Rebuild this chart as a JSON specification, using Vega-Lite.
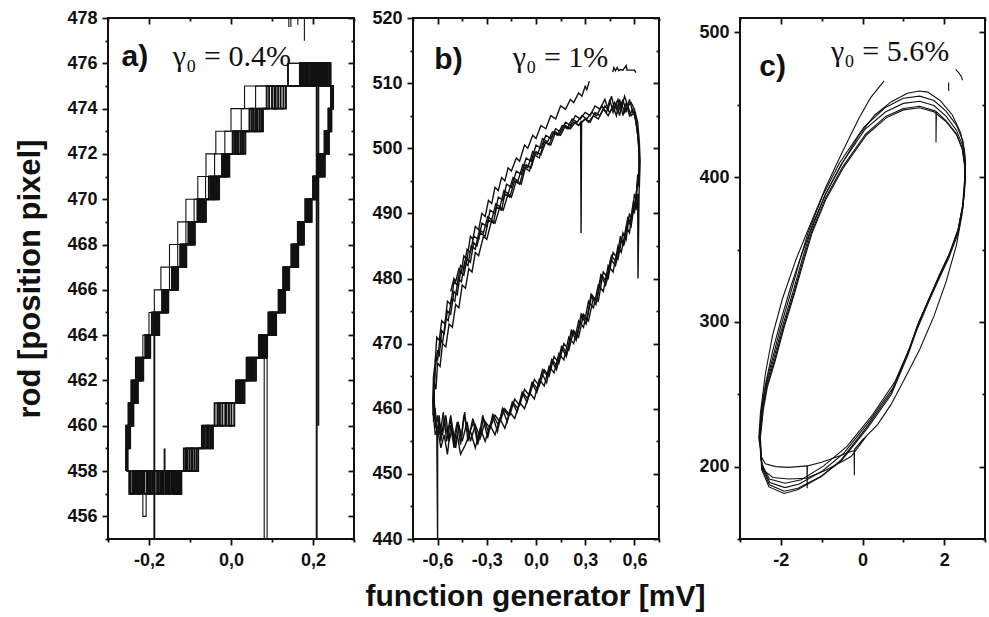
{
"$schema":"https://vega.github.io/schema/vega-lite/v6.json",
"padding":{"left":13,"top":8,"right":2,"bottom":2},
"config":{"view":{"stroke":"#111","strokeWidth":2},"axis":{"grid":false,"domain":false,"tickColor":"#111","tickWidth":1.8,"labelFont":"Liberation Sans","labelFontWeight":"bold","labelFontSize":18,"labelColor":"#111","labelFlush":false,"labelOverlap":false,"labelBound":false,"titleFont":"Liberation Sans","titleFontWeight":"bold","titleFontSize":31,"titleColor":"#111"}},
"title":{"text":"function generator [mV]","orient":"bottom","anchor":"middle","font":"Liberation Sans","fontSize":30,"fontWeight":"bold","color":"#111","offset":12,"dx":35},
"datasets":{
"pa":[
{"s":1,"x":-0.25,"y":458},{"s":1,"x":-0.24,"y":457},{"s":1,"x":-0.23,"y":458},{"s":1,"x":-0.215,"y":456},{"s":1,"x":-0.207,"y":457},{"s":1,"x":-0.195,"y":458},{"s":1,"x":-0.17,"y":457},{"s":1,"x":-0.15,"y":458},{"s":1,"x":-0.135,"y":457},{"s":1,"x":-0.124,"y":458},{"s":1,"x":-0.108,"y":459},{"s":1,"x":-0.066,"y":460},{"s":1,"x":-0.03,"y":461},{"s":1,"x":0.016,"y":462},{"s":1,"x":0.042,"y":463},{"s":1,"x":0.081,"y":450},{"s":1,"x":0.088,"y":463},{"s":1,"x":0.089,"y":464},{"s":1,"x":0.095,"y":465},{"s":1,"x":0.119,"y":466},{"s":1,"x":0.13,"y":467},{"s":1,"x":0.151,"y":468},{"s":1,"x":0.166,"y":469},{"s":1,"x":0.184,"y":470},{"s":1,"x":0.203,"y":471},{"s":1,"x":0.216,"y":472},{"s":1,"x":0.23,"y":473},{"s":1,"x":0.239,"y":474},{"s":1,"x":0.244,"y":475},{"s":1,"x":0.236,"y":476},{"s":1,"x":0.138,"y":475},{"s":1,"x":0.033,"y":474},{"s":1,"x":0.0,"y":473},{"s":1,"x":-0.037,"y":472},{"s":1,"x":-0.061,"y":471},{"s":1,"x":-0.081,"y":470},{"s":1,"x":-0.11,"y":469},{"s":1,"x":-0.13,"y":468},{"s":1,"x":-0.15,"y":467},{"s":1,"x":-0.171,"y":466},{"s":1,"x":-0.187,"y":465},{"s":1,"x":-0.2,"y":464},{"s":1,"x":-0.215,"y":463},{"s":1,"x":-0.232,"y":462},{"s":1,"x":-0.243,"y":461},{"s":1,"x":-0.25,"y":460},{"s":1,"x":-0.254,"y":459},{"s":1,"x":-0.255,"y":458},
{"s":2,"x":-0.252,"y":458},{"s":2,"x":-0.245,"y":457},{"s":2,"x":-0.236,"y":458},{"s":2,"x":-0.228,"y":457},{"s":2,"x":-0.214,"y":458},{"s":2,"x":-0.2,"y":457},{"s":2,"x":-0.192,"y":458},{"s":2,"x":-0.18,"y":457},{"s":2,"x":-0.172,"y":458},{"s":2,"x":-0.16,"y":457},{"s":2,"x":-0.152,"y":458},{"s":2,"x":-0.14,"y":457},{"s":2,"x":-0.132,"y":458},{"s":2,"x":-0.125,"y":457},{"s":2,"x":-0.122,"y":458},
{"s":2,"x":-0.115,"y":459},{"s":2,"x":-0.106,"y":458},{"s":2,"x":-0.096,"y":459},
{"s":2,"x":-0.071,"y":460},{"s":2,"x":-0.064,"y":459},{"s":2,"x":-0.057,"y":460},
{"s":2,"x":-0.04,"y":461},{"s":2,"x":-0.027,"y":460},{"s":2,"x":-0.014,"y":461},
{"s":2,"x":0.012,"y":462},{"s":2,"x":0.018,"y":461},{"s":2,"x":0.023,"y":462},
{"s":2,"x":0.038,"y":463},{"s":2,"x":0.044,"y":462},{"s":2,"x":0.05,"y":463},
{"s":2,"x":0.068,"y":464},{"s":2,"x":0.073,"y":463},{"s":2,"x":0.078,"y":464},
{"s":2,"x":0.091,"y":465},{"s":2,"x":0.096,"y":464},{"s":2,"x":0.101,"y":465},
{"s":2,"x":0.116,"y":466},{"s":2,"x":0.12,"y":465},{"s":2,"x":0.125,"y":466},
{"s":2,"x":0.127,"y":467},{"s":2,"x":0.131,"y":466},{"s":2,"x":0.135,"y":467},
{"s":2,"x":0.147,"y":468},{"s":2,"x":0.152,"y":467},{"s":2,"x":0.156,"y":468},
{"s":2,"x":0.163,"y":469},{"s":2,"x":0.167,"y":468},{"s":2,"x":0.171,"y":469},
{"s":2,"x":0.181,"y":470},{"s":2,"x":0.185,"y":469},{"s":2,"x":0.19,"y":470},
{"s":2,"x":0.2,"y":471},{"s":2,"x":0.204,"y":470},{"s":2,"x":0.207,"y":471},
{"s":2,"x":0.213,"y":472},{"s":2,"x":0.217,"y":471},{"s":2,"x":0.222,"y":472},
{"s":2,"x":0.228,"y":473},{"s":2,"x":0.231,"y":472},{"s":2,"x":0.234,"y":473},
{"s":2,"x":0.2375,"y":474},{"s":2,"x":0.2395,"y":473},{"s":2,"x":0.2415,"y":474},
{"s":2,"x":0.244,"y":475},{"s":2,"x":0.246,"y":474},{"s":2,"x":0.248,"y":475},
{"s":2,"x":0.24,"y":476},{"s":2,"x":0.232,"y":475},{"s":2,"x":0.226,"y":476},{"s":2,"x":0.219,"y":475},{"s":2,"x":0.212,"y":476},{"s":2,"x":0.209,"y":450},{"s":2,"x":0.209,"y":476},{"s":2,"x":0.2,"y":475},{"s":2,"x":0.194,"y":476},{"s":2,"x":0.186,"y":475},{"s":2,"x":0.178,"y":476},{"s":2,"x":0.171,"y":475},
{"s":2,"x":0.134,"y":474},{"s":2,"x":0.121,"y":475},{"s":2,"x":0.109,"y":474},
{"s":2,"x":0.078,"y":473},{"s":2,"x":0.07,"y":474},{"s":2,"x":0.061,"y":473},
{"s":2,"x":0.035,"y":472},{"s":2,"x":0.027,"y":473},{"s":2,"x":0.018,"y":472},
{"s":2,"x":-0.004,"y":471},{"s":2,"x":-0.008,"y":472},{"s":2,"x":-0.013,"y":471},
{"s":2,"x":-0.029,"y":470},{"s":2,"x":-0.036,"y":471},{"s":2,"x":-0.042,"y":470},
{"s":2,"x":-0.061,"y":469},{"s":2,"x":-0.067,"y":470},{"s":2,"x":-0.072,"y":469},
{"s":2,"x":-0.088,"y":468},{"s":2,"x":-0.092,"y":469},{"s":2,"x":-0.097,"y":468},
{"s":2,"x":-0.109,"y":467},{"s":2,"x":-0.113,"y":468},{"s":2,"x":-0.117,"y":467},
{"s":2,"x":-0.129,"y":466},{"s":2,"x":-0.133,"y":467},{"s":2,"x":-0.137,"y":466},
{"s":2,"x":-0.153,"y":465},{"s":2,"x":-0.157,"y":466},{"s":2,"x":-0.161,"y":465},
{"s":2,"x":-0.175,"y":464},{"s":2,"x":-0.179,"y":465},{"s":2,"x":-0.184,"y":464},
{"s":2,"x":-0.197,"y":463},{"s":2,"x":-0.201,"y":464},{"s":2,"x":-0.204,"y":463},
{"s":2,"x":-0.214,"y":462},{"s":2,"x":-0.219,"y":463},{"s":2,"x":-0.224,"y":462},
{"s":2,"x":-0.227,"y":461},{"s":2,"x":-0.231,"y":462},{"s":2,"x":-0.236,"y":461},
{"s":2,"x":-0.238,"y":460},{"s":2,"x":-0.242,"y":461},{"s":2,"x":-0.245,"y":460},
{"s":2,"x":-0.246,"y":459},{"s":2,"x":-0.248,"y":460},{"s":2,"x":-0.251,"y":459},
{"s":2,"x":-0.252,"y":458},
{"s":3,"x":-0.255,"y":458},{"s":3,"x":-0.248,"y":457},{"s":3,"x":-0.24,"y":458},{"s":3,"x":-0.233,"y":457},{"s":3,"x":-0.222,"y":458},{"s":3,"x":-0.216,"y":457},{"s":3,"x":-0.205,"y":458},{"s":3,"x":-0.198,"y":457},{"s":3,"x":-0.188,"y":458},{"s":3,"x":-0.176,"y":457},{"s":3,"x":-0.168,"y":458},{"s":3,"x":-0.162,"y":459},{"s":3,"x":-0.162,"y":458},{"s":3,"x":-0.155,"y":457},{"s":3,"x":-0.145,"y":458},{"s":3,"x":-0.138,"y":457},{"s":3,"x":-0.128,"y":458},{"s":3,"x":-0.124,"y":457},{"s":3,"x":-0.121,"y":458},
{"s":3,"x":-0.101,"y":459},{"s":3,"x":-0.089,"y":458},{"s":3,"x":-0.08,"y":459},
{"s":3,"x":-0.06,"y":460},{"s":3,"x":-0.051,"y":459},{"s":3,"x":-0.044,"y":460},
{"s":3,"x":-0.021,"y":461},{"s":3,"x":-0.005,"y":460},{"s":3,"x":0.008,"y":461},
{"s":3,"x":0.021,"y":462},{"s":3,"x":0.028,"y":461},{"s":3,"x":0.033,"y":462},
{"s":3,"x":0.047,"y":463},{"s":3,"x":0.055,"y":462},{"s":3,"x":0.061,"y":463},
{"s":3,"x":0.075,"y":464},{"s":3,"x":0.082,"y":463},{"s":3,"x":0.087,"y":464},
{"s":3,"x":0.099,"y":465},{"s":3,"x":0.105,"y":464},{"s":3,"x":0.11,"y":465},
{"s":3,"x":0.122,"y":466},{"s":3,"x":0.128,"y":465},{"s":3,"x":0.132,"y":466},
{"s":3,"x":0.133,"y":467},{"s":3,"x":0.138,"y":466},{"s":3,"x":0.142,"y":467},
{"s":3,"x":0.154,"y":468},{"s":3,"x":0.159,"y":467},{"s":3,"x":0.164,"y":468},
{"s":3,"x":0.169,"y":469},{"s":3,"x":0.174,"y":468},{"s":3,"x":0.178,"y":469},
{"s":3,"x":0.187,"y":470},{"s":3,"x":0.193,"y":469},{"s":3,"x":0.197,"y":470},
{"s":3,"x":0.205,"y":471},{"s":3,"x":0.209,"y":470},{"s":3,"x":0.212,"y":471},
{"s":3,"x":0.219,"y":472},{"s":3,"x":0.225,"y":471},{"s":3,"x":0.229,"y":472},
{"s":3,"x":0.232,"y":473},{"s":3,"x":0.236,"y":472},{"s":3,"x":0.239,"y":473},
{"s":3,"x":0.2405,"y":474},{"s":3,"x":0.243,"y":473},{"s":3,"x":0.245,"y":474},
{"s":3,"x":0.246,"y":475},{"s":3,"x":0.247,"y":474},{"s":3,"x":0.249,"y":475},
{"s":3,"x":0.243,"y":476},{"s":3,"x":0.236,"y":475},{"s":3,"x":0.229,"y":476},{"s":3,"x":0.222,"y":475},{"s":3,"x":0.216,"y":476},{"s":3,"x":0.213,"y":460},{"s":3,"x":0.213,"y":476},{"s":3,"x":0.205,"y":475},{"s":3,"x":0.198,"y":476},{"s":3,"x":0.19,"y":475},{"s":3,"x":0.183,"y":476},{"s":3,"x":0.176,"y":475},{"s":3,"x":0.172,"y":476},{"s":3,"x":0.168,"y":475},
{"s":3,"x":0.115,"y":474},{"s":3,"x":0.1,"y":475},{"s":3,"x":0.087,"y":474},
{"s":3,"x":0.065,"y":473},{"s":3,"x":0.054,"y":474},{"s":3,"x":0.045,"y":473},
{"s":3,"x":0.023,"y":472},{"s":3,"x":0.012,"y":473},{"s":3,"x":0.004,"y":472},
{"s":3,"x":-0.011,"y":471},{"s":3,"x":-0.017,"y":472},{"s":3,"x":-0.022,"y":471},
{"s":3,"x":-0.039,"y":470},{"s":3,"x":-0.047,"y":471},{"s":3,"x":-0.054,"y":470},
{"s":3,"x":-0.07,"y":469},{"s":3,"x":-0.077,"y":470},{"s":3,"x":-0.082,"y":469},
{"s":3,"x":-0.094,"y":468},{"s":3,"x":-0.1,"y":469},{"s":3,"x":-0.104,"y":468},
{"s":3,"x":-0.115,"y":467},{"s":3,"x":-0.12,"y":468},{"s":3,"x":-0.124,"y":467},
{"s":3,"x":-0.135,"y":466},{"s":3,"x":-0.14,"y":467},{"s":3,"x":-0.144,"y":466},
{"s":3,"x":-0.159,"y":465},{"s":3,"x":-0.164,"y":466},{"s":3,"x":-0.168,"y":465},
{"s":3,"x":-0.182,"y":464},{"s":3,"x":-0.186,"y":465},{"s":3,"x":-0.187,"y":450},{"s":3,"x":-0.187,"y":465},{"s":3,"x":-0.193,"y":464},
{"s":3,"x":-0.202,"y":463},{"s":3,"x":-0.206,"y":464},{"s":3,"x":-0.209,"y":463},
{"s":3,"x":-0.221,"y":462},{"s":3,"x":-0.227,"y":463},{"s":3,"x":-0.232,"y":462},
{"s":3,"x":-0.233,"y":461},{"s":3,"x":-0.239,"y":462},{"s":3,"x":-0.243,"y":461},
{"s":3,"x":-0.243,"y":460},{"s":3,"x":-0.247,"y":461},{"s":3,"x":-0.25,"y":460},
{"s":3,"x":-0.252,"y":459},{"s":3,"x":-0.254,"y":460},{"s":3,"x":-0.256,"y":459},
{"s":3,"x":-0.256,"y":458},
{"s":4,"x":0.2,"y":476},{"s":4,"x":0.14,"y":475},{"s":4,"x":0.06,"y":474},{"s":4,"x":0.025,"y":473},{"s":4,"x":-0.015,"y":472},{"s":4,"x":-0.04,"y":471},{"s":4,"x":-0.062,"y":470},{"s":4,"x":-0.09,"y":469},{"s":4,"x":-0.11,"y":468},{"s":4,"x":-0.13,"y":467},{"s":4,"x":-0.15,"y":466},{"s":4,"x":-0.168,"y":465},{"s":4,"x":-0.185,"y":464},{"s":4,"x":-0.2,"y":463},
{"s":5,"x":0.14,"y":479},{"s":5,"x":0.141,"y":477.6},{"s":5,"x":0.141,"y":479},{"s":5,"x":0.146,"y":477.6},{"s":5,"x":0.146,"y":479},{"s":5,"x":0.163,"y":477.7},{"s":5,"x":0.163,"y":479},{"s":5,"x":0.179,"y":477},{"s":5,"x":0.179,"y":479},
{"s":6,"x":-0.254,"y":458},{"s":6,"x":-0.247,"y":457},{"s":6,"x":-0.239,"y":458},{"s":6,"x":-0.231,"y":457},{"s":6,"x":-0.225,"y":458},{"s":6,"x":-0.219,"y":457},{"s":6,"x":-0.211,"y":458},{"s":6,"x":-0.203,"y":457},{"s":6,"x":-0.196,"y":458},{"s":6,"x":-0.186,"y":457},{"s":6,"x":-0.179,"y":458},{"s":6,"x":-0.17,"y":457},{"s":6,"x":-0.164,"y":458},{"s":6,"x":-0.157,"y":457},{"s":6,"x":-0.149,"y":458},{"s":6,"x":-0.143,"y":457},{"s":6,"x":-0.134,"y":458},{"s":6,"x":-0.129,"y":457},{"s":6,"x":-0.123,"y":458},
{"s":6,"x":-0.11,"y":459},{"s":6,"x":-0.094,"y":458},{"s":6,"x":-0.084,"y":459},
{"s":6,"x":-0.068,"y":460},{"s":6,"x":-0.055,"y":459},{"s":6,"x":-0.047,"y":460},
{"s":6,"x":-0.033,"y":461},{"s":6,"x":-0.011,"y":460},{"s":6,"x":0.001,"y":461},
{"s":6,"x":0.015,"y":462},{"s":6,"x":0.025,"y":461},{"s":6,"x":0.03,"y":462},
{"s":6,"x":0.041,"y":463},{"s":6,"x":0.052,"y":462},{"s":6,"x":0.058,"y":463},
{"s":6,"x":0.07,"y":464},{"s":6,"x":0.079,"y":463},{"s":6,"x":0.084,"y":464},
{"s":6,"x":0.094,"y":465},{"s":6,"x":0.103,"y":464},{"s":6,"x":0.108,"y":465},
{"s":6,"x":0.118,"y":466},{"s":6,"x":0.126,"y":465},{"s":6,"x":0.13,"y":466},
{"s":6,"x":0.131,"y":467},{"s":6,"x":0.136,"y":466},{"s":6,"x":0.14,"y":467},
{"s":6,"x":0.15,"y":468},{"s":6,"x":0.157,"y":467},{"s":6,"x":0.162,"y":468},
{"s":6,"x":0.165,"y":469},{"s":6,"x":0.172,"y":468},{"s":6,"x":0.176,"y":469},
{"s":6,"x":0.183,"y":470},{"s":6,"x":0.191,"y":469},{"s":6,"x":0.195,"y":470},
{"s":6,"x":0.202,"y":471},{"s":6,"x":0.208,"y":470},{"s":6,"x":0.211,"y":471},
{"s":6,"x":0.215,"y":472},{"s":6,"x":0.223,"y":471},{"s":6,"x":0.227,"y":472},
{"s":6,"x":0.2295,"y":473},{"s":6,"x":0.234,"y":472},{"s":6,"x":0.237,"y":473},
{"s":6,"x":0.2385,"y":474},{"s":6,"x":0.242,"y":473},{"s":6,"x":0.244,"y":474},
{"s":6,"x":0.2445,"y":475},{"s":6,"x":0.2465,"y":474},{"s":6,"x":0.2475,"y":475},
{"s":6,"x":0.241,"y":476},{"s":6,"x":0.235,"y":475},{"s":6,"x":0.23,"y":476},{"s":6,"x":0.224,"y":475},{"s":6,"x":0.218,"y":476},{"s":6,"x":0.21,"y":475},{"s":6,"x":0.203,"y":476},{"s":6,"x":0.196,"y":475},{"s":6,"x":0.189,"y":476},{"s":6,"x":0.181,"y":475},{"s":6,"x":0.174,"y":476},{"s":6,"x":0.17,"y":475},
{"s":6,"x":0.128,"y":474},{"s":6,"x":0.106,"y":475},{"s":6,"x":0.093,"y":474},
{"s":6,"x":0.074,"y":473},{"s":6,"x":0.059,"y":474},{"s":6,"x":0.05,"y":473},
{"s":6,"x":0.031,"y":472},{"s":6,"x":0.016,"y":473},{"s":6,"x":0.008,"y":472},
{"s":6,"x":-0.006,"y":471},{"s":6,"x":-0.014,"y":472},{"s":6,"x":-0.019,"y":471},
{"s":6,"x":-0.032,"y":470},{"s":6,"x":-0.044,"y":471},{"s":6,"x":-0.05,"y":470},
{"s":6,"x":-0.064,"y":469},{"s":6,"x":-0.074,"y":470},{"s":6,"x":-0.079,"y":469},
{"s":6,"x":-0.09,"y":468},{"s":6,"x":-0.098,"y":469},{"s":6,"x":-0.102,"y":468},
{"s":6,"x":-0.111,"y":467},{"s":6,"x":-0.118,"y":468},{"s":6,"x":-0.122,"y":467},
{"s":6,"x":-0.131,"y":466},{"s":6,"x":-0.138,"y":467},{"s":6,"x":-0.142,"y":466},
{"s":6,"x":-0.155,"y":465},{"s":6,"x":-0.162,"y":466},{"s":6,"x":-0.166,"y":465},
{"s":6,"x":-0.177,"y":464},{"s":6,"x":-0.185,"y":465},{"s":6,"x":-0.19,"y":464},
{"s":6,"x":-0.199,"y":463},{"s":6,"x":-0.205,"y":464},{"s":6,"x":-0.208,"y":463},
{"s":6,"x":-0.217,"y":462},{"s":6,"x":-0.225,"y":463},{"s":6,"x":-0.229,"y":462},
{"s":6,"x":-0.23,"y":461},{"s":6,"x":-0.237,"y":462},{"s":6,"x":-0.241,"y":461},
{"s":6,"x":-0.242,"y":460},{"s":6,"x":-0.246,"y":461},{"s":6,"x":-0.249,"y":460},
{"s":6,"x":-0.25,"y":459},{"s":6,"x":-0.252,"y":460},{"s":6,"x":-0.254,"y":459},
{"s":6,"x":-0.255,"y":458}
],
"pb":[
{"s":0,"x":-0.52,"y":478},{"s":0,"x":-0.5,"y":480},{"s":0,"x":-0.49,"y":479.5},{"s":0,"x":-0.47,"y":481.5},{"s":0,"x":-0.455,"y":481},{"s":0,"x":-0.44,"y":483.5},{"s":0,"x":-0.42,"y":483},{"s":0,"x":-0.4,"y":486.5},{"s":0,"x":-0.385,"y":486},{"s":0,"x":-0.37,"y":488},{"s":0,"x":-0.35,"y":487.5},{"s":0,"x":-0.33,"y":490},{"s":0,"x":-0.31,"y":489.5},{"s":0,"x":-0.29,"y":492},{"s":0,"x":-0.27,"y":491.5},{"s":0,"x":-0.25,"y":494},{"s":0,"x":-0.23,"y":493.5},{"s":0,"x":-0.21,"y":495.5},{"s":0,"x":-0.19,"y":495},{"s":0,"x":-0.17,"y":497},{"s":0,"x":-0.15,"y":496.5},{"s":0,"x":-0.12,"y":498.5},{"s":0,"x":-0.1,"y":498},{"s":0,"x":-0.07,"y":500.5},{"s":0,"x":-0.05,"y":500},{"s":0,"x":-0.02,"y":502},{"s":0,"x":0.0,"y":501.5},{"s":0,"x":0.03,"y":503.5},{"s":0,"x":0.06,"y":503},{"s":0,"x":0.09,"y":505},{"s":0,"x":0.12,"y":504.5},{"s":0,"x":0.15,"y":506.5},{"s":0,"x":0.18,"y":506},{"s":0,"x":0.21,"y":507.5},{"s":0,"x":0.23,"y":507},{"s":0,"x":0.26,"y":508.5},{"s":0,"x":0.28,"y":508},{"s":0,"x":0.3,"y":509.5},{"s":0,"x":0.31,"y":509},{"s":0,"x":0.325,"y":510.3},
{"s":1,"x":-0.625,"y":462},{"s":1,"x":-0.615,"y":466},{"s":1,"x":-0.62,"y":465},{"s":1,"x":-0.6,"y":469},{"s":1,"x":-0.59,"y":468},{"s":1,"x":-0.575,"y":472},{"s":1,"x":-0.56,"y":471.5},{"s":1,"x":-0.54,"y":475},{"s":1,"x":-0.52,"y":474.5},{"s":1,"x":-0.5,"y":478},{"s":1,"x":-0.48,"y":477.5},{"s":1,"x":-0.46,"y":481},{"s":1,"x":-0.44,"y":480.5},{"s":1,"x":-0.42,"y":483},{"s":1,"x":-0.4,"y":482.5},{"s":1,"x":-0.38,"y":485.5},{"s":1,"x":-0.36,"y":485},{"s":1,"x":-0.34,"y":487},{"s":1,"x":-0.31,"y":486.5},{"s":1,"x":-0.29,"y":489},{"s":1,"x":-0.26,"y":488.5},{"s":1,"x":-0.24,"y":491},{"s":1,"x":-0.21,"y":490.5},{"s":1,"x":-0.19,"y":493},{"s":1,"x":-0.16,"y":492.5},{"s":1,"x":-0.13,"y":495},{"s":1,"x":-0.1,"y":494.5},{"s":1,"x":-0.07,"y":497},{"s":1,"x":-0.04,"y":496.5},{"s":1,"x":-0.01,"y":499},{"s":1,"x":0.02,"y":498.5},{"s":1,"x":0.05,"y":501},{"s":1,"x":0.08,"y":500.5},{"s":1,"x":0.11,"y":502.5},{"s":1,"x":0.14,"y":502},{"s":1,"x":0.17,"y":503.5},{"s":1,"x":0.2,"y":503},{"s":1,"x":0.23,"y":504},{"s":1,"x":0.26,"y":503.5},{"s":1,"x":0.3,"y":504.5},{"s":1,"x":0.33,"y":504},{"s":1,"x":0.36,"y":505.5},{"s":1,"x":0.39,"y":505},{"s":1,"x":0.42,"y":506.5},{"s":1,"x":0.45,"y":505.5},{"s":1,"x":0.48,"y":507},{"s":1,"x":0.5,"y":505.5},{"s":1,"x":0.52,"y":507},{"s":1,"x":0.54,"y":505.5},{"s":1,"x":0.56,"y":506.5},{"s":1,"x":0.58,"y":505},{"s":1,"x":0.6,"y":505.5},{"s":1,"x":0.615,"y":503},{"s":1,"x":0.625,"y":501},{"s":1,"x":0.63,"y":498},
{"s":1,"x":0.625,"y":495},{"s":1,"x":0.62,"y":496},{"s":1,"x":0.61,"y":492},{"s":1,"x":0.6,"y":493},{"s":1,"x":0.585,"y":489},{"s":1,"x":0.57,"y":490},{"s":1,"x":0.55,"y":486},{"s":1,"x":0.53,"y":487},{"s":1,"x":0.5,"y":483},{"s":1,"x":0.47,"y":484},{"s":1,"x":0.44,"y":480},{"s":1,"x":0.41,"y":481},{"s":1,"x":0.38,"y":476.5},{"s":1,"x":0.35,"y":477},{"s":1,"x":0.32,"y":473.5},{"s":1,"x":0.29,"y":474.5},{"s":1,"x":0.26,"y":471},{"s":1,"x":0.23,"y":472},{"s":1,"x":0.2,"y":469},{"s":1,"x":0.17,"y":470},{"s":1,"x":0.14,"y":467},{"s":1,"x":0.11,"y":468},{"s":1,"x":0.08,"y":465},{"s":1,"x":0.05,"y":466},{"s":1,"x":0.02,"y":463.5},{"s":1,"x":-0.01,"y":464.5},{"s":1,"x":-0.04,"y":462},{"s":1,"x":-0.07,"y":463},{"s":1,"x":-0.1,"y":460.5},{"s":1,"x":-0.13,"y":461.5},{"s":1,"x":-0.16,"y":459},{"s":1,"x":-0.19,"y":460},{"s":1,"x":-0.22,"y":458},{"s":1,"x":-0.25,"y":459},{"s":1,"x":-0.28,"y":457},{"s":1,"x":-0.31,"y":458},{"s":1,"x":-0.34,"y":455.5},{"s":1,"x":-0.37,"y":457.5},{"s":1,"x":-0.4,"y":455},{"s":1,"x":-0.42,"y":458},{"s":1,"x":-0.45,"y":455},{"s":1,"x":-0.47,"y":457.5},{"s":1,"x":-0.49,"y":454},{"s":1,"x":-0.51,"y":457},{"s":1,"x":-0.53,"y":455},{"s":1,"x":-0.55,"y":459},{"s":1,"x":-0.57,"y":456},{"s":1,"x":-0.59,"y":458},{"s":1,"x":-0.605,"y":456.5},{"s":1,"x":-0.615,"y":459.5},{"s":1,"x":-0.625,"y":458},{"s":1,"x":-0.625,"y":462},
{"s":2,"x":-0.62,"y":460},{"s":2,"x":-0.62,"y":464},{"s":2,"x":-0.61,"y":463},{"s":2,"x":-0.6,"y":467},{"s":2,"x":-0.585,"y":466.5},{"s":2,"x":-0.57,"y":470},{"s":2,"x":-0.55,"y":469.5},{"s":2,"x":-0.53,"y":473},{"s":2,"x":-0.51,"y":472.5},{"s":2,"x":-0.49,"y":476},{"s":2,"x":-0.47,"y":475.5},{"s":2,"x":-0.45,"y":479},{"s":2,"x":-0.43,"y":478.5},{"s":2,"x":-0.41,"y":481.5},{"s":2,"x":-0.39,"y":481},{"s":2,"x":-0.37,"y":484},{"s":2,"x":-0.35,"y":483.5},{"s":2,"x":-0.32,"y":486.5},{"s":2,"x":-0.3,"y":486},{"s":2,"x":-0.27,"y":489},{"s":2,"x":-0.25,"y":488.5},{"s":2,"x":-0.22,"y":491},{"s":2,"x":-0.2,"y":490.5},{"s":2,"x":-0.17,"y":493},{"s":2,"x":-0.15,"y":492.5},{"s":2,"x":-0.12,"y":495},{"s":2,"x":-0.09,"y":494.5},{"s":2,"x":-0.06,"y":497.5},{"s":2,"x":-0.03,"y":497},{"s":2,"x":0.0,"y":499.5},{"s":2,"x":0.03,"y":499},{"s":2,"x":0.06,"y":501},{"s":2,"x":0.09,"y":500.5},{"s":2,"x":0.12,"y":502.5},{"s":2,"x":0.15,"y":502},{"s":2,"x":0.18,"y":503.5},{"s":2,"x":0.21,"y":503},{"s":2,"x":0.24,"y":504},{"s":2,"x":0.26,"y":503.5},{"s":2,"x":0.272,"y":504},{"s":2,"x":0.275,"y":487},{"s":2,"x":0.278,"y":504},{"s":2,"x":0.3,"y":504.5},{"s":2,"x":0.32,"y":504},{"s":2,"x":0.35,"y":505},{"s":2,"x":0.38,"y":504.5},{"s":2,"x":0.41,"y":506},{"s":2,"x":0.44,"y":505},{"s":2,"x":0.47,"y":506.5},{"s":2,"x":0.49,"y":505},{"s":2,"x":0.51,"y":507.5},{"s":2,"x":0.53,"y":505},{"s":2,"x":0.55,"y":507},{"s":2,"x":0.57,"y":505},{"s":2,"x":0.59,"y":506},{"s":2,"x":0.61,"y":504},{"s":2,"x":0.62,"y":502},{"s":2,"x":0.63,"y":499},
{"s":2,"x":0.63,"y":496},{"s":2,"x":0.622,"y":480},{"s":2,"x":0.62,"y":493},{"s":2,"x":0.61,"y":490.5},{"s":2,"x":0.6,"y":491.5},{"s":2,"x":0.58,"y":488},{"s":2,"x":0.56,"y":489},{"s":2,"x":0.54,"y":485.5},{"s":2,"x":0.52,"y":486},{"s":2,"x":0.49,"y":482.5},{"s":2,"x":0.46,"y":483.5},{"s":2,"x":0.43,"y":479.5},{"s":2,"x":0.4,"y":480.5},{"s":2,"x":0.37,"y":476.5},{"s":2,"x":0.34,"y":477.5},{"s":2,"x":0.31,"y":473.5},{"s":2,"x":0.28,"y":474.5},{"s":2,"x":0.25,"y":471},{"s":2,"x":0.22,"y":472},{"s":2,"x":0.19,"y":468.5},{"s":2,"x":0.16,"y":469.5},{"s":2,"x":0.13,"y":466.5},{"s":2,"x":0.1,"y":467.5},{"s":2,"x":0.07,"y":465},{"s":2,"x":0.04,"y":466},{"s":2,"x":0.01,"y":463},{"s":2,"x":-0.02,"y":464},{"s":2,"x":-0.05,"y":461.5},{"s":2,"x":-0.08,"y":462.5},{"s":2,"x":-0.11,"y":460},{"s":2,"x":-0.14,"y":461},{"s":2,"x":-0.17,"y":459},{"s":2,"x":-0.2,"y":460},{"s":2,"x":-0.23,"y":457.5},{"s":2,"x":-0.26,"y":459},{"s":2,"x":-0.29,"y":456.5},{"s":2,"x":-0.32,"y":458.5},{"s":2,"x":-0.35,"y":455},{"s":2,"x":-0.38,"y":458},{"s":2,"x":-0.41,"y":456},{"s":2,"x":-0.44,"y":459},{"s":2,"x":-0.46,"y":454.5},{"s":2,"x":-0.48,"y":458},{"s":2,"x":-0.5,"y":455.5},{"s":2,"x":-0.52,"y":459},{"s":2,"x":-0.54,"y":456},{"s":2,"x":-0.56,"y":458.5},{"s":2,"x":-0.58,"y":455},{"s":2,"x":-0.59,"y":459},{"s":2,"x":-0.6,"y":456},{"s":2,"x":-0.6,"y":440},{"s":2,"x":-0.605,"y":457},{"s":2,"x":-0.615,"y":460},{"s":2,"x":-0.62,"y":460},
{"s":3,"x":-0.63,"y":461},{"s":3,"x":-0.625,"y":465},{"s":3,"x":-0.615,"y":467},{"s":3,"x":-0.605,"y":471},{"s":3,"x":-0.59,"y":470.5},{"s":3,"x":-0.575,"y":473.5},{"s":3,"x":-0.555,"y":473},{"s":3,"x":-0.54,"y":476.5},{"s":3,"x":-0.52,"y":476},{"s":3,"x":-0.5,"y":479.5},{"s":3,"x":-0.48,"y":479},{"s":3,"x":-0.46,"y":482},{"s":3,"x":-0.44,"y":481.5},{"s":3,"x":-0.42,"y":484.5},{"s":3,"x":-0.4,"y":484},{"s":3,"x":-0.38,"y":486.5},{"s":3,"x":-0.35,"y":486},{"s":3,"x":-0.33,"y":488.5},{"s":3,"x":-0.3,"y":488},{"s":3,"x":-0.28,"y":490.5},{"s":3,"x":-0.25,"y":490},{"s":3,"x":-0.23,"y":492.5},{"s":3,"x":-0.2,"y":492},{"s":3,"x":-0.18,"y":494.5},{"s":3,"x":-0.15,"y":494},{"s":3,"x":-0.12,"y":496.5},{"s":3,"x":-0.09,"y":496},{"s":3,"x":-0.06,"y":498.5},{"s":3,"x":-0.03,"y":498},{"s":3,"x":0.0,"y":500.5},{"s":3,"x":0.03,"y":500},{"s":3,"x":0.06,"y":502},{"s":3,"x":0.09,"y":501.5},{"s":3,"x":0.12,"y":503},{"s":3,"x":0.15,"y":502.5},{"s":3,"x":0.18,"y":504},{"s":3,"x":0.21,"y":503.5},{"s":3,"x":0.24,"y":505},{"s":3,"x":0.27,"y":504.5},{"s":3,"x":0.3,"y":505.5},{"s":3,"x":0.33,"y":505},{"s":3,"x":0.36,"y":506.5},{"s":3,"x":0.39,"y":506},{"s":3,"x":0.42,"y":507.5},{"s":3,"x":0.44,"y":506},{"s":3,"x":0.46,"y":508},{"s":3,"x":0.48,"y":506},{"s":3,"x":0.5,"y":507.5},{"s":3,"x":0.52,"y":506},{"s":3,"x":0.54,"y":508},{"s":3,"x":0.56,"y":506.5},{"s":3,"x":0.58,"y":507},{"s":3,"x":0.6,"y":506},{"s":3,"x":0.62,"y":504},{"s":3,"x":0.63,"y":501},{"s":3,"x":0.635,"y":498},
{"s":3,"x":0.63,"y":494},{"s":3,"x":0.62,"y":495},{"s":3,"x":0.6,"y":490},{"s":3,"x":0.59,"y":491},{"s":3,"x":0.57,"y":487},{"s":3,"x":0.55,"y":488},{"s":3,"x":0.52,"y":484},{"s":3,"x":0.5,"y":485},{"s":3,"x":0.47,"y":481},{"s":3,"x":0.44,"y":482},{"s":3,"x":0.41,"y":478},{"s":3,"x":0.38,"y":479},{"s":3,"x":0.35,"y":475.5},{"s":3,"x":0.32,"y":476.5},{"s":3,"x":0.29,"y":472.5},{"s":3,"x":0.26,"y":473.5},{"s":3,"x":0.23,"y":470},{"s":3,"x":0.2,"y":471},{"s":3,"x":0.17,"y":467.5},{"s":3,"x":0.14,"y":468.5},{"s":3,"x":0.11,"y":465.5},{"s":3,"x":0.08,"y":466.5},{"s":3,"x":0.05,"y":463.5},{"s":3,"x":0.02,"y":464.5},{"s":3,"x":-0.01,"y":461.5},{"s":3,"x":-0.04,"y":462.5},{"s":3,"x":-0.07,"y":460},{"s":3,"x":-0.1,"y":461},{"s":3,"x":-0.13,"y":458.5},{"s":3,"x":-0.16,"y":459.5},{"s":3,"x":-0.19,"y":457},{"s":3,"x":-0.22,"y":458.5},{"s":3,"x":-0.25,"y":456},{"s":3,"x":-0.28,"y":457.5},{"s":3,"x":-0.31,"y":455},{"s":3,"x":-0.34,"y":457},{"s":3,"x":-0.37,"y":454},{"s":3,"x":-0.4,"y":456.5},{"s":3,"x":-0.43,"y":454.5},{"s":3,"x":-0.46,"y":453},{"s":3,"x":-0.48,"y":456},{"s":3,"x":-0.5,"y":454},{"s":3,"x":-0.52,"y":457.5},{"s":3,"x":-0.54,"y":453},{"s":3,"x":-0.56,"y":456},{"s":3,"x":-0.58,"y":454},{"s":3,"x":-0.6,"y":457},{"s":3,"x":-0.615,"y":456},{"s":3,"x":-0.625,"y":459},{"s":3,"x":-0.63,"y":461},
{"s":4,"x":0.468,"y":511.7},{"s":4,"x":0.475,"y":512.4},{"s":4,"x":0.485,"y":511.9},{"s":4,"x":0.495,"y":512.4},{"s":4,"x":0.505,"y":511.9},{"s":4,"x":0.515,"y":512.1},{"s":4,"x":0.53,"y":512.0},{"s":4,"x":0.55,"y":512.7},{"s":4,"x":0.555,"y":512.0},{"s":4,"x":0.6,"y":512.0},{"s":4,"x":0.61,"y":511.6},
{"s":5,"x":-0.628,"y":459},{"s":5,"x":-0.62,"y":463},{"s":5,"x":-0.612,"y":468},{"s":5,"x":-0.6,"y":467.5},{"s":5,"x":-0.585,"y":471},{"s":5,"x":-0.57,"y":470},{"s":5,"x":-0.55,"y":474},{"s":5,"x":-0.535,"y":473.5},{"s":5,"x":-0.515,"y":477},{"s":5,"x":-0.495,"y":476.5},{"s":5,"x":-0.475,"y":480},{"s":5,"x":-0.455,"y":479.5},{"s":5,"x":-0.435,"y":482.5},{"s":5,"x":-0.415,"y":482},{"s":5,"x":-0.395,"y":485},{"s":5,"x":-0.37,"y":484.5},{"s":5,"x":-0.345,"y":487.5},{"s":5,"x":-0.32,"y":487},{"s":5,"x":-0.295,"y":489.5},{"s":5,"x":-0.27,"y":489},{"s":5,"x":-0.245,"y":491.5},{"s":5,"x":-0.22,"y":491},{"s":5,"x":-0.195,"y":493.5},{"s":5,"x":-0.17,"y":493},{"s":5,"x":-0.14,"y":495.5},{"s":5,"x":-0.11,"y":495},{"s":5,"x":-0.08,"y":497.5},{"s":5,"x":-0.05,"y":497},{"s":5,"x":-0.02,"y":499.5},{"s":5,"x":0.01,"y":499},{"s":5,"x":0.04,"y":501.5},{"s":5,"x":0.07,"y":501},{"s":5,"x":0.1,"y":502.5},{"s":5,"x":0.13,"y":502},{"s":5,"x":0.16,"y":503.5},{"s":5,"x":0.19,"y":503},{"s":5,"x":0.22,"y":504.5},{"s":5,"x":0.25,"y":504},{"s":5,"x":0.28,"y":505},{"s":5,"x":0.31,"y":504.5},{"s":5,"x":0.34,"y":505.5},{"s":5,"x":0.37,"y":505},{"s":5,"x":0.4,"y":506.5},{"s":5,"x":0.43,"y":505.5},{"s":5,"x":0.45,"y":507.5},{"s":5,"x":0.47,"y":505.5},{"s":5,"x":0.49,"y":507},{"s":5,"x":0.51,"y":505},{"s":5,"x":0.53,"y":507.5},{"s":5,"x":0.55,"y":505.5},{"s":5,"x":0.57,"y":507.5},{"s":5,"x":0.59,"y":505.5},{"s":5,"x":0.605,"y":505},{"s":5,"x":0.62,"y":502.5},{"s":5,"x":0.628,"y":500},
{"s":5,"x":0.628,"y":496},{"s":5,"x":0.615,"y":494},{"s":5,"x":0.605,"y":491},{"s":5,"x":0.595,"y":492},{"s":5,"x":0.575,"y":488.5},{"s":5,"x":0.56,"y":489.5},{"s":5,"x":0.535,"y":485},{"s":5,"x":0.515,"y":486.5},{"s":5,"x":0.485,"y":482},{"s":5,"x":0.455,"y":483},{"s":5,"x":0.425,"y":479},{"s":5,"x":0.395,"y":480.5},{"s":5,"x":0.365,"y":476},{"s":5,"x":0.335,"y":477.5},{"s":5,"x":0.305,"y":473},{"s":5,"x":0.275,"y":474.5},{"s":5,"x":0.245,"y":470.5},{"s":5,"x":0.215,"y":472},{"s":5,"x":0.185,"y":468},{"s":5,"x":0.155,"y":469.5},{"s":5,"x":0.125,"y":466},{"s":5,"x":0.095,"y":467.5},{"s":5,"x":0.065,"y":464},{"s":5,"x":0.035,"y":465.5},{"s":5,"x":0.005,"y":462.5},{"s":5,"x":-0.025,"y":464},{"s":5,"x":-0.055,"y":461},{"s":5,"x":-0.085,"y":462.5},{"s":5,"x":-0.115,"y":459.5},{"s":5,"x":-0.145,"y":461},{"s":5,"x":-0.175,"y":458},{"s":5,"x":-0.205,"y":460},{"s":5,"x":-0.235,"y":456.5},{"s":5,"x":-0.265,"y":459},{"s":5,"x":-0.295,"y":455.5},{"s":5,"x":-0.325,"y":459},{"s":5,"x":-0.355,"y":454.5},{"s":5,"x":-0.385,"y":458.5},{"s":5,"x":-0.415,"y":455},{"s":5,"x":-0.435,"y":459.5},{"s":5,"x":-0.455,"y":455.5},{"s":5,"x":-0.475,"y":458},{"s":5,"x":-0.5,"y":454.5},{"s":5,"x":-0.52,"y":458.5},{"s":5,"x":-0.545,"y":455},{"s":5,"x":-0.565,"y":459.5},{"s":5,"x":-0.585,"y":456},{"s":5,"x":-0.6,"y":459},{"s":5,"x":-0.61,"y":457},{"s":5,"x":-0.62,"y":461},{"s":5,"x":-0.628,"y":459}
],
"pc":[
{"s":1,"x":0.53,"y":466.5},{"s":1,"x":0.2,"y":455},{"s":1,"x":-0.1,"y":440},{"s":1,"x":-0.5,"y":417},{"s":1,"x":-0.9,"y":393},{"s":1,"x":-1.3,"y":366},{"s":1,"x":-1.63,"y":343},{"s":1,"x":-1.96,"y":316},{"s":1,"x":-2.2,"y":291},{"s":1,"x":-2.38,"y":264},{"s":1,"x":-2.5,"y":237},{"s":1,"x":-2.54,"y":220},{"s":1,"x":-2.48,"y":207},{"s":1,"x":-2.38,"y":202},{"s":1,"x":-2.13,"y":200},{"s":1,"x":-1.8,"y":199.5},{"s":1,"x":-1.36,"y":200.5},{"s":1,"x":-1.355,"y":185},{"s":1,"x":-1.35,"y":200.5},{"s":1,"x":-1.0,"y":203},{"s":1,"x":-0.6,"y":207},{"s":1,"x":-0.28,"y":210.4},{"s":1,"x":-0.205,"y":211},{"s":1,"x":-0.2,"y":194},{"s":1,"x":-0.195,"y":212},{"s":1,"x":0.0,"y":218.5},{"s":1,"x":0.37,"y":229},{"s":1,"x":0.7,"y":243},{"s":1,"x":1.02,"y":260},{"s":1,"x":1.4,"y":281},{"s":1,"x":1.75,"y":304},{"s":1,"x":2.05,"y":328},{"s":1,"x":2.3,"y":353},{"s":1,"x":2.43,"y":373},{"s":1,"x":2.5,"y":390},{"s":1,"x":2.52,"y":405},{"s":1,"x":2.5,"y":418},{"s":1,"x":2.4,"y":431},{"s":1,"x":2.2,"y":443},{"s":1,"x":1.9,"y":453},{"s":1,"x":1.6,"y":458.8},{"s":1,"x":1.39,"y":459.6},{"s":1,"x":1.1,"y":458},{"s":1,"x":0.7,"y":452},{"s":1,"x":0.3,"y":443},{"s":1,"x":-0.1,"y":428.5},{"s":1,"x":-0.5,"y":409.5},{"s":1,"x":-0.9,"y":388.5},{"s":1,"x":-1.22,"y":367.5},{"s":1,"x":-1.5,"y":346},{"s":1,"x":-1.75,"y":325},{"s":1,"x":-2.0,"y":301},{"s":1,"x":-2.2,"y":280},{"s":1,"x":-2.36,"y":259},{"s":1,"x":-2.46,"y":240},{"s":1,"x":-2.52,"y":221},{"s":1,"x":-2.49,"y":205},{"s":1,"x":-2.4,"y":197},{"s":1,"x":-2.2,"y":192.5},{"s":1,"x":-1.8,"y":191.5},{"s":1,"x":-1.38,"y":192},{"s":1,"x":-0.9,"y":197.5},{"s":1,"x":-0.5,"y":203.5},{"s":1,"x":-0.28,"y":207},{"s":1,"x":0.12,"y":222},
{"s":2,"x":-2.52,"y":222},{"s":2,"x":-2.47,"y":240},{"s":2,"x":-2.38,"y":256},{"s":2,"x":-2.21,"y":274},{"s":2,"x":-2.0,"y":297},{"s":2,"x":-1.76,"y":320},{"s":2,"x":-1.53,"y":343},{"s":2,"x":-1.33,"y":362},{"s":2,"x":-0.98,"y":387},{"s":2,"x":-0.56,"y":410},{"s":2,"x":0.03,"y":434.5},{"s":2,"x":0.55,"y":448},{"s":2,"x":1.0,"y":454.5},{"s":2,"x":1.4,"y":456},{"s":2,"x":1.75,"y":453},{"s":2,"x":2.05,"y":445.5},{"s":2,"x":2.3,"y":436},{"s":2,"x":2.46,"y":425},{"s":2,"x":2.52,"y":412},{"s":2,"x":2.52,"y":400},{"s":2,"x":2.47,"y":383},{"s":2,"x":2.35,"y":365},{"s":2,"x":2.14,"y":348},{"s":2,"x":1.89,"y":333},{"s":2,"x":1.66,"y":318},{"s":2,"x":1.38,"y":300},{"s":2,"x":1.2,"y":285},{"s":2,"x":0.8,"y":259},{"s":2,"x":0.25,"y":236},{"s":2,"x":-0.38,"y":214},{"s":2,"x":-0.95,"y":200.5},{"s":2,"x":-1.5,"y":191},{"s":2,"x":-1.9,"y":188.5},{"s":2,"x":-2.28,"y":191.5},{"s":2,"x":-2.47,"y":202},{"s":2,"x":-2.52,"y":222},
{"s":3,"x":-2.51,"y":221},{"s":3,"x":-2.44,"y":240},{"s":3,"x":-2.34,"y":256},{"s":3,"x":-2.15,"y":274},{"s":3,"x":-1.93,"y":297},{"s":3,"x":-1.68,"y":320},{"s":3,"x":-1.45,"y":343},{"s":3,"x":-1.25,"y":362},{"s":3,"x":-0.9,"y":386},{"s":3,"x":-0.49,"y":407},{"s":3,"x":0.08,"y":430},{"s":3,"x":0.57,"y":442},{"s":3,"x":1.0,"y":447.5},{"s":3,"x":1.4,"y":449},{"s":3,"x":1.75,"y":446},{"s":3,"x":1.8,"y":445.5},{"s":3,"x":1.8,"y":424},{"s":3,"x":1.81,"y":445.2},{"s":3,"x":2.05,"y":439},{"s":3,"x":2.3,"y":430},{"s":3,"x":2.44,"y":420},{"s":3,"x":2.5,"y":408},{"s":3,"x":2.5,"y":398},{"s":3,"x":2.45,"y":380},{"s":3,"x":2.33,"y":362},{"s":3,"x":2.1,"y":345},{"s":3,"x":1.85,"y":330},{"s":3,"x":1.6,"y":314},{"s":3,"x":1.3,"y":294},{"s":3,"x":1.1,"y":278},{"s":3,"x":0.7,"y":251},{"s":3,"x":0.12,"y":228},{"s":3,"x":-0.53,"y":204.5},{"s":3,"x":-1.02,"y":193},{"s":3,"x":-1.59,"y":184},{"s":3,"x":-1.92,"y":181.5},{"s":3,"x":-2.29,"y":186},{"s":3,"x":-2.47,"y":198},{"s":3,"x":-2.51,"y":221},
{"s":4,"x":-2.5,"y":220},{"s":4,"x":-2.43,"y":239},{"s":4,"x":-2.33,"y":255},{"s":4,"x":-2.14,"y":273},{"s":4,"x":-1.92,"y":296},{"s":4,"x":-1.67,"y":319},{"s":4,"x":-1.44,"y":342},{"s":4,"x":-1.24,"y":361},{"s":4,"x":-0.89,"y":385},{"s":4,"x":-0.48,"y":406},{"s":4,"x":0.09,"y":429},{"s":4,"x":0.58,"y":441},{"s":4,"x":1.0,"y":446.5},{"s":4,"x":1.4,"y":448},{"s":4,"x":1.76,"y":445},{"s":4,"x":2.06,"y":438},{"s":4,"x":2.31,"y":429},{"s":4,"x":2.45,"y":419},{"s":4,"x":2.51,"y":407},{"s":4,"x":2.51,"y":397},{"s":4,"x":2.46,"y":379},{"s":4,"x":2.34,"y":361},{"s":4,"x":2.11,"y":344},{"s":4,"x":1.86,"y":329},{"s":4,"x":1.61,"y":313},{"s":4,"x":1.31,"y":293},{"s":4,"x":1.11,"y":277},{"s":4,"x":0.71,"y":250},{"s":4,"x":0.13,"y":227},{"s":4,"x":-0.52,"y":204},{"s":4,"x":-1.0,"y":193.5},{"s":4,"x":-1.58,"y":185},{"s":4,"x":-1.92,"y":183},{"s":4,"x":-2.28,"y":187.5},{"s":4,"x":-2.46,"y":199},{"s":4,"x":-2.5,"y":220},
{"s":5,"x":-2.52,"y":221},{"s":5,"x":-2.46,"y":240},{"s":5,"x":-2.36,"y":256},{"s":5,"x":-2.18,"y":274},{"s":5,"x":-1.96,"y":297},{"s":5,"x":-1.71,"y":320},{"s":5,"x":-1.48,"y":343},{"s":5,"x":-1.28,"y":362},{"s":5,"x":-0.93,"y":387},{"s":5,"x":-0.52,"y":409},{"s":5,"x":0.06,"y":433},{"s":5,"x":0.56,"y":445},{"s":5,"x":1.0,"y":451},{"s":5,"x":1.4,"y":452.5},{"s":5,"x":1.75,"y":449.5},{"s":5,"x":2.05,"y":442},{"s":5,"x":2.3,"y":432.5},{"s":5,"x":2.45,"y":422},{"s":5,"x":2.51,"y":410},{"s":5,"x":2.51,"y":399},{"s":5,"x":2.46,"y":381},{"s":5,"x":2.34,"y":363},{"s":5,"x":2.12,"y":346},{"s":5,"x":1.87,"y":331},{"s":5,"x":1.63,"y":316},{"s":5,"x":1.34,"y":297},{"s":5,"x":1.15,"y":281},{"s":5,"x":0.76,"y":255},{"s":5,"x":0.18,"y":232},{"s":5,"x":-0.45,"y":209.5},{"s":5,"x":-0.98,"y":197},{"s":5,"x":-1.55,"y":188},{"s":5,"x":-1.9,"y":185.5},{"s":5,"x":-2.27,"y":189},{"s":5,"x":-2.46,"y":200},{"s":5,"x":-2.52,"y":221},
{"s":6,"x":2.11,"y":465.5},{"s":6,"x":2.11,"y":459.6},
{"s":7,"x":2.28,"y":474.5},{"s":7,"x":2.35,"y":472.5},{"s":7,"x":2.42,"y":469.5},{"s":7,"x":2.45,"y":467}
]
},
"spacing":36,
"hconcat":[
{"spacing":14,"hconcat":[
{"width":246,"height":521,
"resolve":{"axis":{"x":"independent","y":"independent"}},
"layer":[
{"data":{"name":"pa"},"mark":{"type":"line","interpolate":"step-after","clip":true,"color":"#111"},
"encoding":{
"x":{"field":"x","type":"quantitative","scale":{"domain":[-0.3,0.3],"nice":false,"zero":false},"axis":{"orient":"bottom","values":[-0.2,0,0.2],"tickSize":6,"labelPadding":6,"labelExpr":"replace(replace(format(datum.value,'.1f'),'.',','),'\u2212','-')","title":null}},
"y":{"field":"y","type":"quantitative","scale":{"domain":[455,478],"nice":false,"zero":false},"axis":{"orient":"left","values":[456,458,460,462,464,466,468,470,472,474,476,478],"tickSize":6,"labelPadding":5,"format":"d","title":"rod [position pixel]","titlePadding":20}},
"detail":{"field":"s","type":"nominal"},
"strokeWidth":{"condition":{"test":"datum.s==1 || datum.s==4 || datum.s==5","value":1.1},"value":1.9},
"order":{"value":null}}},
{"data":{"values":[{"x":-0.267,"y":475.86,"t":"a)"}]},"mark":{"type":"text","align":"left","baseline":"alphabetic","font":"Liberation Sans","fontWeight":"bold","fontSize":30,"color":"#111"},
"encoding":{
"x":{"field":"x","type":"quantitative","axis":{"orient":"bottom","values":[-0.3,-0.1,0.1,0.3],"tickSize":3,"labels":false,"title":null}},
"y":{"field":"y","type":"quantitative","axis":{"orient":"left","values":[455,457,459,461,463,465,467,469,471,473,475,477],"tickSize":3,"labels":false,"title":null}},
"text":{"field":"t"}}},
{"data":{"values":[{"x":-0.142,"y":475.86,"t":"γ₀ = 0.4%"}]},"mark":{"type":"text","align":"left","baseline":"alphabetic","font":"Liberation Serif","fontSize":30,"color":"#111"},
"encoding":{
"x":{"field":"x","type":"quantitative","axis":{"orient":"top","values":[-0.2,0,0.2],"tickSize":-6,"labels":false,"title":null}},
"y":{"field":"y","type":"quantitative","axis":{"orient":"right","values":[456,458,460,462,464,466,468,470,472,474,476,478],"tickSize":-6,"labels":false,"title":null}},
"text":{"field":"t"}}},
{"data":{"values":[{"x":0,"y":470}]},"mark":{"type":"point","opacity":0},
"encoding":{
"x":{"field":"x","type":"quantitative","axis":{"orient":"top","values":[-0.3,-0.1,0.1,0.3],"tickSize":-3,"labels":false,"title":null}},
"y":{"field":"y","type":"quantitative","axis":{"orient":"right","values":[455,457,459,461,463,465,467,469,471,473,475,477],"tickSize":-3,"labels":false,"title":null}}}}
]},
{"width":246,"height":521,
"resolve":{"axis":{"x":"independent","y":"independent"}},
"layer":[
{"data":{"name":"pb"},"mark":{"type":"line","clip":true,"color":"#111","strokeWidth":1.4},
"encoding":{
"x":{"field":"x","type":"quantitative","scale":{"domain":[-0.75,0.75],"nice":false,"zero":false},"axis":{"orient":"bottom","values":[-0.6,-0.3,0,0.3,0.6],"tickSize":6,"labelPadding":6,"labelExpr":"replace(replace(format(datum.value,'.1f'),'.',','),'\u2212','-')","title":null}},
"y":{"field":"y","type":"quantitative","scale":{"domain":[440,520],"nice":false,"zero":false},"axis":{"orient":"left","values":[440,450,460,470,480,490,500,510,520],"tickSize":6,"labelPadding":5,"format":"d","title":null}},
"detail":{"field":"s","type":"nominal"},
"order":{"value":null}}},
{"data":{"values":[{"x":-0.62,"y":512.2,"t":"b)"}]},"mark":{"type":"text","align":"left","baseline":"alphabetic","font":"Liberation Sans","fontWeight":"bold","fontSize":30,"color":"#111"},
"encoding":{
"x":{"field":"x","type":"quantitative","axis":{"orient":"bottom","values":[-0.75,-0.45,-0.15,0.15,0.45,0.75],"tickSize":3,"labels":false,"title":null}},
"y":{"field":"y","type":"quantitative","axis":{"orient":"left","values":[445,455,465,475,485,495,505,515],"tickSize":3,"labels":false,"title":null}},
"text":{"field":"t"}}},
{"data":{"values":[{"x":-0.142,"y":512.4,"t":"γ₀ = 1%"}]},"mark":{"type":"text","align":"left","baseline":"alphabetic","font":"Liberation Serif","fontSize":30,"color":"#111"},
"encoding":{
"x":{"field":"x","type":"quantitative","axis":{"orient":"top","values":[-0.6,-0.3,0,0.3,0.6],"tickSize":-6,"labels":false,"title":null}},
"y":{"field":"y","type":"quantitative","axis":{"orient":"right","values":[440,450,460,470,480,490,500,510,520],"tickSize":-6,"labels":false,"title":null}},
"text":{"field":"t"}}},
{"data":{"values":[{"x":0,"y":480}]},"mark":{"type":"point","opacity":0},
"encoding":{
"x":{"field":"x","type":"quantitative","axis":{"orient":"top","values":[-0.75,-0.45,-0.15,0.15,0.45,0.75],"tickSize":-3,"labels":false,"title":null}},
"y":{"field":"y","type":"quantitative","axis":{"orient":"right","values":[445,455,465,475,485,495,505,515],"tickSize":-3,"labels":false,"title":null}}}}
]}
]},
{"width":245,"height":521,
"resolve":{"axis":{"x":"independent","y":"independent"}},
"layer":[
{"data":{"name":"pc"},"mark":{"type":"line","clip":true,"color":"#111","strokeWidth":1.1},
"encoding":{
"x":{"field":"x","type":"quantitative","scale":{"domain":[-3,3],"nice":false,"zero":false},"axis":{"orient":"bottom","values":[-2,0,2],"tickSize":6,"labelPadding":6,"labelExpr":"replace(format(datum.value,'d'),'\u2212','-')","title":null}},
"y":{"field":"y","type":"quantitative","scale":{"domain":[150,510],"nice":false,"zero":false},"axis":{"orient":"left","values":[200,300,400,500],"tickSize":6,"labelPadding":5,"format":"d","title":null}},
"detail":{"field":"s","type":"nominal"},
"order":{"value":null}}},
{"data":{"values":[{"x":-2.53,"y":469.9,"t":"c)"}]},"mark":{"type":"text","align":"left","baseline":"alphabetic","font":"Liberation Sans","fontWeight":"bold","fontSize":30,"color":"#111"},
"encoding":{
"x":{"field":"x","type":"quantitative","axis":{"orient":"bottom","values":[-3,-1,1,3],"tickSize":3,"labels":false,"title":null}},
"y":{"field":"y","type":"quantitative","axis":{"orient":"left","values":[150,250,350,450],"tickSize":3,"labels":false,"title":null}},
"text":{"field":"t"}}},
{"data":{"values":[{"x":-0.77,"y":480.3,"t":"γ₀ = 5.6%"}]},"mark":{"type":"text","align":"left","baseline":"alphabetic","font":"Liberation Serif","fontSize":30,"color":"#111"},
"encoding":{
"x":{"field":"x","type":"quantitative","axis":{"orient":"top","values":[-2,0,2],"tickSize":-6,"labels":false,"title":null}},
"y":{"field":"y","type":"quantitative","axis":{"orient":"right","values":[200,300,400,500],"tickSize":-6,"labels":false,"title":null}},
"text":{"field":"t"}}},
{"data":{"values":[{"x":0,"y":300}]},"mark":{"type":"point","opacity":0},
"encoding":{
"x":{"field":"x","type":"quantitative","axis":{"orient":"top","values":[-3,-1,1,3],"tickSize":-3,"labels":false,"title":null}},
"y":{"field":"y","type":"quantitative","axis":{"orient":"right","values":[150,250,350,450],"tickSize":-3,"labels":false,"title":null}}}}
]}
]
}
